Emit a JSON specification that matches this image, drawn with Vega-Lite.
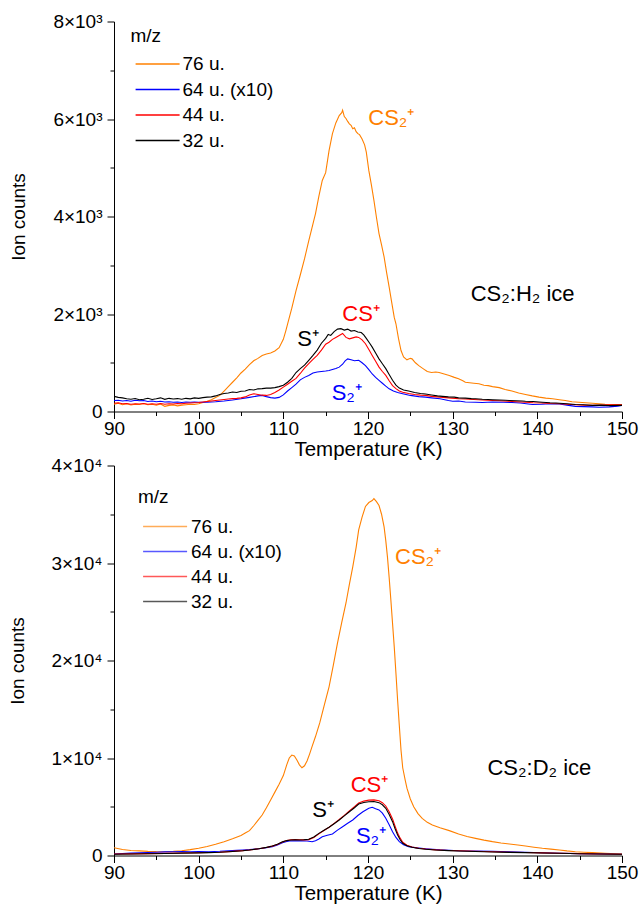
{
"$schema": "https://vega.github.io/schema/vega-lite/v6.json",
"background": "white",
"padding": {"left": 8, "top": 12.5, "right": 5, "bottom": 5},
"config": {
  "font": "Liberation Sans",
  "view": {"stroke": null},
  "axis": {"domainColor": "black", "tickColor": "black", "labelColor": "black", "titleColor": "black", "grid": false, "labelFontSize": 19, "titleFontSize": 19, "titleFontWeight": "normal", "labelFlush": false, "labelOverlap": false, "tickSize": 7, "domainWidth": 1, "tickWidth": 1, "labelFont": "Liberation Sans", "titleFont": "Liberation Sans"},
  "legend": {"labelFont": "Liberation Sans", "titleFont": "Liberation Sans"}
},
"datasets": {
  "top": [
{"T":90,"c":150,"mz":"76 u."},{"T":90.5,"c":170,"mz":"76 u."},{"T":91,"c":140,"mz":"76 u."},{"T":91.5,"c":160,"mz":"76 u."},{"T":92,"c":135,"mz":"76 u."},{"T":92.5,"c":150,"mz":"76 u."},{"T":93,"c":145,"mz":"76 u."},{"T":93.5,"c":165,"mz":"76 u."},{"T":94,"c":140,"mz":"76 u."},{"T":94.5,"c":150,"mz":"76 u."},{"T":95,"c":130,"mz":"76 u."},{"T":95.5,"c":155,"mz":"76 u."},{"T":96,"c":105,"mz":"76 u."},{"T":96.5,"c":125,"mz":"76 u."},{"T":97,"c":135,"mz":"76 u."},{"T":97.5,"c":115,"mz":"76 u."},{"T":98,"c":130,"mz":"76 u."},{"T":98.5,"c":140,"mz":"76 u."},{"T":99,"c":150,"mz":"76 u."},{"T":99.5,"c":145,"mz":"76 u."},{"T":100,"c":160,"mz":"76 u."},{"T":100.5,"c":185,"mz":"76 u."},{"T":101,"c":210,"mz":"76 u."},{"T":101.5,"c":240,"mz":"76 u."},{"T":102,"c":285,"mz":"76 u."},{"T":102.5,"c":330,"mz":"76 u."},{"T":103,"c":420,"mz":"76 u."},{"T":103.5,"c":510,"mz":"76 u."},{"T":104,"c":600,"mz":"76 u."},{"T":104.5,"c":690,"mz":"76 u."},{"T":105,"c":790,"mz":"76 u."},{"T":105.5,"c":870,"mz":"76 u."},{"T":106,"c":960,"mz":"76 u."},{"T":106.5,"c":1040,"mz":"76 u."},{"T":107,"c":1090,"mz":"76 u."},{"T":107.5,"c":1150,"mz":"76 u."},{"T":108,"c":1180,"mz":"76 u."},{"T":108.5,"c":1200,"mz":"76 u."},{"T":109,"c":1240,"mz":"76 u."},{"T":109.5,"c":1310,"mz":"76 u."},{"T":110,"c":1480,"mz":"76 u."},{"T":110.3,"c":1660,"mz":"76 u."},{"T":110.6,"c":1860,"mz":"76 u."},{"T":111,"c":2120,"mz":"76 u."},{"T":111.5,"c":2480,"mz":"76 u."},{"T":112,"c":2800,"mz":"76 u."},{"T":112.5,"c":3130,"mz":"76 u."},{"T":113,"c":3500,"mz":"76 u."},{"T":113.5,"c":3850,"mz":"76 u."},{"T":113.8,"c":4060,"mz":"76 u."},{"T":114.2,"c":4420,"mz":"76 u."},{"T":114.6,"c":4740,"mz":"76 u."},{"T":115,"c":4900,"mz":"76 u."},{"T":115.4,"c":5350,"mz":"76 u."},{"T":115.8,"c":5700,"mz":"76 u."},{"T":116.2,"c":5920,"mz":"76 u."},{"T":116.6,"c":6070,"mz":"76 u."},{"T":116.9,"c":6130,"mz":"76 u."},{"T":117,"c":6180,"mz":"76 u."},{"T":117.2,"c":6050,"mz":"76 u."},{"T":117.4,"c":6010,"mz":"76 u."},{"T":117.6,"c":5950,"mz":"76 u."},{"T":117.8,"c":5900,"mz":"76 u."},{"T":118,"c":5870,"mz":"76 u."},{"T":118.2,"c":5800,"mz":"76 u."},{"T":118.4,"c":5820,"mz":"76 u."},{"T":118.6,"c":5740,"mz":"76 u."},{"T":118.8,"c":5700,"mz":"76 u."},{"T":119,"c":5680,"mz":"76 u."},{"T":119.3,"c":5590,"mz":"76 u."},{"T":119.6,"c":5470,"mz":"76 u."},{"T":119.8,"c":5320,"mz":"76 u."},{"T":120.1,"c":4940,"mz":"76 u."},{"T":120.4,"c":4650,"mz":"76 u."},{"T":120.7,"c":4330,"mz":"76 u."},{"T":121,"c":3980,"mz":"76 u."},{"T":121.3,"c":3650,"mz":"76 u."},{"T":121.6,"c":3420,"mz":"76 u."},{"T":121.9,"c":3170,"mz":"76 u."},{"T":122.2,"c":2850,"mz":"76 u."},{"T":122.5,"c":2550,"mz":"76 u."},{"T":122.8,"c":2240,"mz":"76 u."},{"T":123.1,"c":1930,"mz":"76 u."},{"T":123.3,"c":1800,"mz":"76 u."},{"T":123.6,"c":1500,"mz":"76 u."},{"T":123.9,"c":1250,"mz":"76 u."},{"T":124.2,"c":1120,"mz":"76 u."},{"T":124.6,"c":1060,"mz":"76 u."},{"T":125,"c":1090,"mz":"76 u."},{"T":125.2,"c":1080,"mz":"76 u."},{"T":125.6,"c":1000,"mz":"76 u."},{"T":126,"c":940,"mz":"76 u."},{"T":126.5,"c":880,"mz":"76 u."},{"T":127,"c":820,"mz":"76 u."},{"T":127.5,"c":800,"mz":"76 u."},{"T":128,"c":810,"mz":"76 u."},{"T":128.4,"c":800,"mz":"76 u."},{"T":129,"c":770,"mz":"76 u."},{"T":129.6,"c":740,"mz":"76 u."},{"T":130.2,"c":700,"mz":"76 u."},{"T":130.7,"c":670,"mz":"76 u."},{"T":131.2,"c":630,"mz":"76 u."},{"T":131.5,"c":600,"mz":"76 u."},{"T":132,"c":590,"mz":"76 u."},{"T":132.5,"c":580,"mz":"76 u."},{"T":133.1,"c":570,"mz":"76 u."},{"T":133.7,"c":540,"mz":"76 u."},{"T":134.2,"c":530,"mz":"76 u."},{"T":134.7,"c":510,"mz":"76 u."},{"T":135.5,"c":490,"mz":"76 u."},{"T":136.2,"c":450,"mz":"76 u."},{"T":137,"c":420,"mz":"76 u."},{"T":137.8,"c":380,"mz":"76 u."},{"T":138.6,"c":350,"mz":"76 u."},{"T":139.4,"c":320,"mz":"76 u."},{"T":140.2,"c":295,"mz":"76 u."},{"T":141,"c":275,"mz":"76 u."},{"T":141.8,"c":260,"mz":"76 u."},{"T":142.6,"c":240,"mz":"76 u."},{"T":143.3,"c":225,"mz":"76 u."},{"T":144.1,"c":200,"mz":"76 u."},{"T":144.9,"c":190,"mz":"76 u."},{"T":145.7,"c":180,"mz":"76 u."},{"T":146.5,"c":170,"mz":"76 u."},{"T":147.3,"c":160,"mz":"76 u."},{"T":148,"c":150,"mz":"76 u."},{"T":149,"c":145,"mz":"76 u."},{"T":150,"c":140,"mz":"76 u."},
{"T":90,"c":225,"mz":"64 u. (x10)"},{"T":90.5,"c":230,"mz":"64 u. (x10)"},{"T":91,"c":215,"mz":"64 u. (x10)"},{"T":91.5,"c":225,"mz":"64 u. (x10)"},{"T":92,"c":210,"mz":"64 u. (x10)"},{"T":92.5,"c":230,"mz":"64 u. (x10)"},{"T":93,"c":220,"mz":"64 u. (x10)"},{"T":93.5,"c":225,"mz":"64 u. (x10)"},{"T":94,"c":205,"mz":"64 u. (x10)"},{"T":94.5,"c":215,"mz":"64 u. (x10)"},{"T":95,"c":200,"mz":"64 u. (x10)"},{"T":95.5,"c":210,"mz":"64 u. (x10)"},{"T":96,"c":195,"mz":"64 u. (x10)"},{"T":96.5,"c":200,"mz":"64 u. (x10)"},{"T":97,"c":190,"mz":"64 u. (x10)"},{"T":97.5,"c":195,"mz":"64 u. (x10)"},{"T":98,"c":185,"mz":"64 u. (x10)"},{"T":98.5,"c":195,"mz":"64 u. (x10)"},{"T":99,"c":190,"mz":"64 u. (x10)"},{"T":99.5,"c":195,"mz":"64 u. (x10)"},{"T":100,"c":190,"mz":"64 u. (x10)"},{"T":101,"c":190,"mz":"64 u. (x10)"},{"T":102,"c":200,"mz":"64 u. (x10)"},{"T":103,"c":215,"mz":"64 u. (x10)"},{"T":104,"c":235,"mz":"64 u. (x10)"},{"T":105,"c":260,"mz":"64 u. (x10)"},{"T":106,"c":290,"mz":"64 u. (x10)"},{"T":107,"c":320,"mz":"64 u. (x10)"},{"T":107.5,"c":330,"mz":"64 u. (x10)"},{"T":108,"c":305,"mz":"64 u. (x10)"},{"T":108.5,"c":285,"mz":"64 u. (x10)"},{"T":109,"c":275,"mz":"64 u. (x10)"},{"T":109.5,"c":290,"mz":"64 u. (x10)"},{"T":110,"c":340,"mz":"64 u. (x10)"},{"T":110.5,"c":420,"mz":"64 u. (x10)"},{"T":111,"c":490,"mz":"64 u. (x10)"},{"T":111.5,"c":560,"mz":"64 u. (x10)"},{"T":112,"c":650,"mz":"64 u. (x10)"},{"T":112.5,"c":700,"mz":"64 u. (x10)"},{"T":113,"c":740,"mz":"64 u. (x10)"},{"T":113.5,"c":790,"mz":"64 u. (x10)"},{"T":114,"c":810,"mz":"64 u. (x10)"},{"T":114.5,"c":820,"mz":"64 u. (x10)"},{"T":115,"c":830,"mz":"64 u. (x10)"},{"T":115.4,"c":840,"mz":"64 u. (x10)"},{"T":115.8,"c":860,"mz":"64 u. (x10)"},{"T":116.2,"c":880,"mz":"64 u. (x10)"},{"T":116.6,"c":910,"mz":"64 u. (x10)"},{"T":117,"c":970,"mz":"64 u. (x10)"},{"T":117.3,"c":1040,"mz":"64 u. (x10)"},{"T":117.6,"c":1080,"mz":"64 u. (x10)"},{"T":118,"c":1060,"mz":"64 u. (x10)"},{"T":118.4,"c":1040,"mz":"64 u. (x10)"},{"T":118.9,"c":1050,"mz":"64 u. (x10)"},{"T":119.3,"c":1000,"mz":"64 u. (x10)"},{"T":119.7,"c":940,"mz":"64 u. (x10)"},{"T":120.1,"c":860,"mz":"64 u. (x10)"},{"T":120.5,"c":770,"mz":"64 u. (x10)"},{"T":120.9,"c":700,"mz":"64 u. (x10)"},{"T":121.3,"c":640,"mz":"64 u. (x10)"},{"T":121.7,"c":580,"mz":"64 u. (x10)"},{"T":122.1,"c":520,"mz":"64 u. (x10)"},{"T":122.5,"c":465,"mz":"64 u. (x10)"},{"T":123,"c":420,"mz":"64 u. (x10)"},{"T":123.5,"c":390,"mz":"64 u. (x10)"},{"T":124.1,"c":365,"mz":"64 u. (x10)"},{"T":125,"c":330,"mz":"64 u. (x10)"},{"T":126,"c":305,"mz":"64 u. (x10)"},{"T":126.8,"c":295,"mz":"64 u. (x10)"},{"T":127.5,"c":280,"mz":"64 u. (x10)"},{"T":128.5,"c":260,"mz":"64 u. (x10)"},{"T":129.5,"c":225,"mz":"64 u. (x10)"},{"T":130,"c":210,"mz":"64 u. (x10)"},{"T":130.7,"c":215,"mz":"64 u. (x10)"},{"T":131.5,"c":195,"mz":"64 u. (x10)"},{"T":132.7,"c":190,"mz":"64 u. (x10)"},{"T":133.5,"c":185,"mz":"64 u. (x10)"},{"T":134.7,"c":195,"mz":"64 u. (x10)"},{"T":136,"c":190,"mz":"64 u. (x10)"},{"T":137,"c":185,"mz":"64 u. (x10)"},{"T":138,"c":175,"mz":"64 u. (x10)"},{"T":139.4,"c":145,"mz":"64 u. (x10)"},{"T":140.5,"c":150,"mz":"64 u. (x10)"},{"T":141.5,"c":160,"mz":"64 u. (x10)"},{"T":142.6,"c":155,"mz":"64 u. (x10)"},{"T":143.5,"c":130,"mz":"64 u. (x10)"},{"T":144.5,"c":105,"mz":"64 u. (x10)"},{"T":145.5,"c":100,"mz":"64 u. (x10)"},{"T":146.5,"c":95,"mz":"64 u. (x10)"},{"T":147.3,"c":88,"mz":"64 u. (x10)"},{"T":148.5,"c":95,"mz":"64 u. (x10)"},{"T":149.5,"c":110,"mz":"64 u. (x10)"},{"T":150,"c":125,"mz":"64 u. (x10)"},
{"T":90,"c":170,"mz":"44 u."},{"T":90.5,"c":180,"mz":"44 u."},{"T":91,"c":160,"mz":"44 u."},{"T":91.5,"c":165,"mz":"44 u."},{"T":92,"c":150,"mz":"44 u."},{"T":92.5,"c":160,"mz":"44 u."},{"T":93,"c":155,"mz":"44 u."},{"T":93.5,"c":165,"mz":"44 u."},{"T":94,"c":150,"mz":"44 u."},{"T":94.5,"c":160,"mz":"44 u."},{"T":95,"c":150,"mz":"44 u."},{"T":95.5,"c":165,"mz":"44 u."},{"T":96,"c":150,"mz":"44 u."},{"T":96.5,"c":160,"mz":"44 u."},{"T":97,"c":155,"mz":"44 u."},{"T":97.5,"c":165,"mz":"44 u."},{"T":98,"c":160,"mz":"44 u."},{"T":98.5,"c":170,"mz":"44 u."},{"T":99,"c":175,"mz":"44 u."},{"T":99.5,"c":180,"mz":"44 u."},{"T":100,"c":185,"mz":"44 u."},{"T":100.5,"c":195,"mz":"44 u."},{"T":101,"c":205,"mz":"44 u."},{"T":101.5,"c":215,"mz":"44 u."},{"T":102,"c":225,"mz":"44 u."},{"T":102.5,"c":235,"mz":"44 u."},{"T":103,"c":245,"mz":"44 u."},{"T":103.5,"c":255,"mz":"44 u."},{"T":104,"c":265,"mz":"44 u."},{"T":104.5,"c":270,"mz":"44 u."},{"T":105,"c":280,"mz":"44 u."},{"T":105.5,"c":300,"mz":"44 u."},{"T":106,"c":340,"mz":"44 u."},{"T":106.5,"c":365,"mz":"44 u."},{"T":107,"c":350,"mz":"44 u."},{"T":107.5,"c":335,"mz":"44 u."},{"T":108,"c":330,"mz":"44 u."},{"T":108.5,"c":350,"mz":"44 u."},{"T":109,"c":390,"mz":"44 u."},{"T":109.5,"c":440,"mz":"44 u."},{"T":110,"c":500,"mz":"44 u."},{"T":110.5,"c":560,"mz":"44 u."},{"T":111,"c":620,"mz":"44 u."},{"T":111.5,"c":680,"mz":"44 u."},{"T":112,"c":780,"mz":"44 u."},{"T":112.5,"c":890,"mz":"44 u."},{"T":113,"c":980,"mz":"44 u."},{"T":113.5,"c":1070,"mz":"44 u."},{"T":114,"c":1150,"mz":"44 u."},{"T":114.5,"c":1260,"mz":"44 u."},{"T":115,"c":1380,"mz":"44 u."},{"T":115.4,"c":1420,"mz":"44 u."},{"T":115.8,"c":1480,"mz":"44 u."},{"T":116.2,"c":1520,"mz":"44 u."},{"T":116.6,"c":1560,"mz":"44 u."},{"T":117,"c":1600,"mz":"44 u."},{"T":117.4,"c":1520,"mz":"44 u."},{"T":117.8,"c":1490,"mz":"44 u."},{"T":118.2,"c":1510,"mz":"44 u."},{"T":118.6,"c":1530,"mz":"44 u."},{"T":118.9,"c":1520,"mz":"44 u."},{"T":119.3,"c":1470,"mz":"44 u."},{"T":119.7,"c":1390,"mz":"44 u."},{"T":120.1,"c":1270,"mz":"44 u."},{"T":120.5,"c":1150,"mz":"44 u."},{"T":120.9,"c":1030,"mz":"44 u."},{"T":121.3,"c":910,"mz":"44 u."},{"T":121.7,"c":820,"mz":"44 u."},{"T":122.1,"c":740,"mz":"44 u."},{"T":122.5,"c":630,"mz":"44 u."},{"T":122.9,"c":530,"mz":"44 u."},{"T":123.3,"c":470,"mz":"44 u."},{"T":123.7,"c":420,"mz":"44 u."},{"T":124.1,"c":395,"mz":"44 u."},{"T":124.8,"c":370,"mz":"44 u."},{"T":125.5,"c":350,"mz":"44 u."},{"T":126.2,"c":335,"mz":"44 u."},{"T":126.8,"c":330,"mz":"44 u."},{"T":127.5,"c":310,"mz":"44 u."},{"T":128.5,"c":295,"mz":"44 u."},{"T":129.5,"c":280,"mz":"44 u."},{"T":130.7,"c":260,"mz":"44 u."},{"T":131.5,"c":255,"mz":"44 u."},{"T":132.5,"c":245,"mz":"44 u."},{"T":133.5,"c":235,"mz":"44 u."},{"T":134.7,"c":225,"mz":"44 u."},{"T":135.5,"c":220,"mz":"44 u."},{"T":136.5,"c":210,"mz":"44 u."},{"T":137.5,"c":200,"mz":"44 u."},{"T":138.6,"c":190,"mz":"44 u."},{"T":139.5,"c":180,"mz":"44 u."},{"T":140.5,"c":175,"mz":"44 u."},{"T":141.5,"c":165,"mz":"44 u."},{"T":142.6,"c":160,"mz":"44 u."},{"T":143.5,"c":150,"mz":"44 u."},{"T":144.5,"c":140,"mz":"44 u."},{"T":145.5,"c":130,"mz":"44 u."},{"T":146.5,"c":125,"mz":"44 u."},{"T":147.5,"c":130,"mz":"44 u."},{"T":148.5,"c":135,"mz":"44 u."},{"T":149.5,"c":135,"mz":"44 u."},{"T":150,"c":137,"mz":"44 u."},
{"T":90,"c":310,"mz":"32 u."},{"T":90.5,"c":290,"mz":"32 u."},{"T":91,"c":280,"mz":"32 u."},{"T":91.5,"c":260,"mz":"32 u."},{"T":92,"c":250,"mz":"32 u."},{"T":92.5,"c":265,"mz":"32 u."},{"T":93,"c":240,"mz":"32 u."},{"T":93.5,"c":250,"mz":"32 u."},{"T":94,"c":270,"mz":"32 u."},{"T":94.5,"c":245,"mz":"32 u."},{"T":95,"c":260,"mz":"32 u."},{"T":95.5,"c":280,"mz":"32 u."},{"T":96,"c":250,"mz":"32 u."},{"T":96.5,"c":270,"mz":"32 u."},{"T":97,"c":255,"mz":"32 u."},{"T":97.5,"c":265,"mz":"32 u."},{"T":98,"c":250,"mz":"32 u."},{"T":98.5,"c":270,"mz":"32 u."},{"T":99,"c":260,"mz":"32 u."},{"T":99.5,"c":280,"mz":"32 u."},{"T":100,"c":270,"mz":"32 u."},{"T":100.5,"c":285,"mz":"32 u."},{"T":101,"c":295,"mz":"32 u."},{"T":101.5,"c":300,"mz":"32 u."},{"T":102,"c":320,"mz":"32 u."},{"T":102.5,"c":350,"mz":"32 u."},{"T":103,"c":370,"mz":"32 u."},{"T":103.5,"c":380,"mz":"32 u."},{"T":104,"c":400,"mz":"32 u."},{"T":104.5,"c":390,"mz":"32 u."},{"T":105,"c":415,"mz":"32 u."},{"T":105.5,"c":420,"mz":"32 u."},{"T":106,"c":450,"mz":"32 u."},{"T":106.5,"c":440,"mz":"32 u."},{"T":107,"c":465,"mz":"32 u."},{"T":107.5,"c":470,"mz":"32 u."},{"T":108,"c":480,"mz":"32 u."},{"T":108.5,"c":480,"mz":"32 u."},{"T":109,"c":490,"mz":"32 u."},{"T":109.5,"c":510,"mz":"32 u."},{"T":110,"c":540,"mz":"32 u."},{"T":110.5,"c":600,"mz":"32 u."},{"T":111,"c":680,"mz":"32 u."},{"T":111.5,"c":800,"mz":"32 u."},{"T":112,"c":880,"mz":"32 u."},{"T":112.5,"c":950,"mz":"32 u."},{"T":113,"c":1050,"mz":"32 u."},{"T":113.5,"c":1150,"mz":"32 u."},{"T":114,"c":1260,"mz":"32 u."},{"T":114.5,"c":1400,"mz":"32 u."},{"T":115,"c":1500,"mz":"32 u."},{"T":115.3,"c":1580,"mz":"32 u."},{"T":115.6,"c":1560,"mz":"32 u."},{"T":116,"c":1640,"mz":"32 u."},{"T":116.4,"c":1690,"mz":"32 u."},{"T":116.8,"c":1700,"mz":"32 u."},{"T":117.2,"c":1670,"mz":"32 u."},{"T":117.6,"c":1690,"mz":"32 u."},{"T":118,"c":1650,"mz":"32 u."},{"T":118.4,"c":1660,"mz":"32 u."},{"T":118.8,"c":1630,"mz":"32 u."},{"T":119.2,"c":1620,"mz":"32 u."},{"T":119.5,"c":1570,"mz":"32 u."},{"T":119.8,"c":1500,"mz":"32 u."},{"T":120.2,"c":1400,"mz":"32 u."},{"T":120.5,"c":1320,"mz":"32 u."},{"T":120.9,"c":1200,"mz":"32 u."},{"T":121.3,"c":1080,"mz":"32 u."},{"T":121.7,"c":980,"mz":"32 u."},{"T":122.1,"c":880,"mz":"32 u."},{"T":122.5,"c":760,"mz":"32 u."},{"T":122.9,"c":640,"mz":"32 u."},{"T":123.3,"c":540,"mz":"32 u."},{"T":123.7,"c":480,"mz":"32 u."},{"T":124.2,"c":440,"mz":"32 u."},{"T":124.8,"c":420,"mz":"32 u."},{"T":125.5,"c":390,"mz":"32 u."},{"T":126.2,"c":370,"mz":"32 u."},{"T":126.8,"c":360,"mz":"32 u."},{"T":127.5,"c":340,"mz":"32 u."},{"T":128.2,"c":320,"mz":"32 u."},{"T":128.8,"c":310,"mz":"32 u."},{"T":129.5,"c":300,"mz":"32 u."},{"T":130.2,"c":295,"mz":"32 u."},{"T":130.7,"c":280,"mz":"32 u."},{"T":131.5,"c":275,"mz":"32 u."},{"T":132.2,"c":265,"mz":"32 u."},{"T":132.7,"c":260,"mz":"32 u."},{"T":133.5,"c":250,"mz":"32 u."},{"T":134.2,"c":245,"mz":"32 u."},{"T":134.7,"c":240,"mz":"32 u."},{"T":135.5,"c":235,"mz":"32 u."},{"T":136.2,"c":230,"mz":"32 u."},{"T":136.7,"c":225,"mz":"32 u."},{"T":137.5,"c":220,"mz":"32 u."},{"T":138.2,"c":215,"mz":"32 u."},{"T":138.6,"c":210,"mz":"32 u."},{"T":139.5,"c":205,"mz":"32 u."},{"T":140.2,"c":195,"mz":"32 u."},{"T":140.6,"c":190,"mz":"32 u."},{"T":141.5,"c":180,"mz":"32 u."},{"T":142.2,"c":175,"mz":"32 u."},{"T":142.6,"c":170,"mz":"32 u."},{"T":143.5,"c":160,"mz":"32 u."},{"T":144.5,"c":145,"mz":"32 u."},{"T":145.5,"c":140,"mz":"32 u."},{"T":146.5,"c":125,"mz":"32 u."},{"T":147.5,"c":130,"mz":"32 u."},{"T":148.5,"c":120,"mz":"32 u."},{"T":149.5,"c":125,"mz":"32 u."},{"T":150,"c":125,"mz":"32 u."}
  ],
  "bottom": [
{"T":90,"c":800,"mz":"76 u."},{"T":91,"c":620,"mz":"76 u."},{"T":92,"c":520,"mz":"76 u."},{"T":93,"c":470,"mz":"76 u."},{"T":94,"c":420,"mz":"76 u."},{"T":95,"c":395,"mz":"76 u."},{"T":96,"c":390,"mz":"76 u."},{"T":97,"c":420,"mz":"76 u."},{"T":98,"c":480,"mz":"76 u."},{"T":99,"c":600,"mz":"76 u."},{"T":100,"c":740,"mz":"76 u."},{"T":101,"c":920,"mz":"76 u."},{"T":102,"c":1150,"mz":"76 u."},{"T":103,"c":1420,"mz":"76 u."},{"T":104,"c":1720,"mz":"76 u."},{"T":105,"c":2050,"mz":"76 u."},{"T":105.5,"c":2300,"mz":"76 u."},{"T":106,"c":2550,"mz":"76 u."},{"T":106.5,"c":3050,"mz":"76 u."},{"T":107,"c":3600,"mz":"76 u."},{"T":107.5,"c":4150,"mz":"76 u."},{"T":108,"c":4900,"mz":"76 u."},{"T":108.5,"c":5700,"mz":"76 u."},{"T":109,"c":6500,"mz":"76 u."},{"T":109.5,"c":7300,"mz":"76 u."},{"T":110,"c":8200,"mz":"76 u."},{"T":110.4,"c":9300,"mz":"76 u."},{"T":110.7,"c":10000,"mz":"76 u."},{"T":111,"c":10300,"mz":"76 u."},{"T":111.3,"c":10200,"mz":"76 u."},{"T":111.6,"c":9800,"mz":"76 u."},{"T":111.9,"c":9300,"mz":"76 u."},{"T":112.2,"c":9000,"mz":"76 u."},{"T":112.5,"c":9200,"mz":"76 u."},{"T":112.8,"c":9700,"mz":"76 u."},{"T":113.1,"c":10400,"mz":"76 u."},{"T":113.4,"c":11200,"mz":"76 u."},{"T":113.8,"c":12200,"mz":"76 u."},{"T":114.3,"c":13600,"mz":"76 u."},{"T":114.8,"c":15300,"mz":"76 u."},{"T":115.4,"c":17300,"mz":"76 u."},{"T":115.9,"c":19500,"mz":"76 u."},{"T":116.4,"c":21800,"mz":"76 u."},{"T":116.9,"c":23900,"mz":"76 u."},{"T":117.4,"c":25900,"mz":"76 u."},{"T":117.8,"c":27800,"mz":"76 u."},{"T":118.2,"c":29600,"mz":"76 u."},{"T":118.6,"c":31600,"mz":"76 u."},{"T":118.9,"c":33400,"mz":"76 u."},{"T":119.3,"c":34700,"mz":"76 u."},{"T":119.7,"c":35800,"mz":"76 u."},{"T":120.1,"c":36200,"mz":"76 u."},{"T":120.5,"c":36400,"mz":"76 u."},{"T":120.7,"c":36600,"mz":"76 u."},{"T":121,"c":36300,"mz":"76 u."},{"T":121.3,"c":35900,"mz":"76 u."},{"T":121.6,"c":35000,"mz":"76 u."},{"T":121.9,"c":33700,"mz":"76 u."},{"T":122.1,"c":32300,"mz":"76 u."},{"T":122.3,"c":30600,"mz":"76 u."},{"T":122.5,"c":28500,"mz":"76 u."},{"T":122.7,"c":26200,"mz":"76 u."},{"T":122.9,"c":23800,"mz":"76 u."},{"T":123.1,"c":21400,"mz":"76 u."},{"T":123.3,"c":18700,"mz":"76 u."},{"T":123.5,"c":15900,"mz":"76 u."},{"T":123.7,"c":13300,"mz":"76 u."},{"T":123.9,"c":10800,"mz":"76 u."},{"T":124.1,"c":9000,"mz":"76 u."},{"T":124.4,"c":7700,"mz":"76 u."},{"T":124.6,"c":6900,"mz":"76 u."},{"T":125,"c":5800,"mz":"76 u."},{"T":125.4,"c":5000,"mz":"76 u."},{"T":125.9,"c":4300,"mz":"76 u."},{"T":126.4,"c":3800,"mz":"76 u."},{"T":127,"c":3400,"mz":"76 u."},{"T":127.6,"c":3130,"mz":"76 u."},{"T":128.5,"c":2850,"mz":"76 u."},{"T":129.6,"c":2550,"mz":"76 u."},{"T":130.7,"c":2200,"mz":"76 u."},{"T":131.7,"c":1950,"mz":"76 u."},{"T":132.7,"c":1760,"mz":"76 u."},{"T":133.7,"c":1580,"mz":"76 u."},{"T":134.7,"c":1420,"mz":"76 u."},{"T":135.7,"c":1290,"mz":"76 u."},{"T":136.7,"c":1180,"mz":"76 u."},{"T":137.7,"c":1070,"mz":"76 u."},{"T":138.6,"c":970,"mz":"76 u."},{"T":139.6,"c":850,"mz":"76 u."},{"T":140.6,"c":740,"mz":"76 u."},{"T":141.6,"c":650,"mz":"76 u."},{"T":142.6,"c":560,"mz":"76 u."},{"T":143.5,"c":470,"mz":"76 u."},{"T":144.5,"c":390,"mz":"76 u."},{"T":145.5,"c":340,"mz":"76 u."},{"T":146.5,"c":290,"mz":"76 u."},{"T":148,"c":230,"mz":"76 u."},{"T":150,"c":160,"mz":"76 u."},
{"T":90,"c":150,"mz":"64 u. (x10)"},{"T":91,"c":200,"mz":"64 u. (x10)"},{"T":92,"c":240,"mz":"64 u. (x10)"},{"T":93,"c":280,"mz":"64 u. (x10)"},{"T":94,"c":300,"mz":"64 u. (x10)"},{"T":95,"c":330,"mz":"64 u. (x10)"},{"T":96,"c":370,"mz":"64 u. (x10)"},{"T":97,"c":380,"mz":"64 u. (x10)"},{"T":98,"c":400,"mz":"64 u. (x10)"},{"T":99,"c":390,"mz":"64 u. (x10)"},{"T":100,"c":400,"mz":"64 u. (x10)"},{"T":101.2,"c":390,"mz":"64 u. (x10)"},{"T":102.5,"c":430,"mz":"64 u. (x10)"},{"T":103.5,"c":480,"mz":"64 u. (x10)"},{"T":104.5,"c":530,"mz":"64 u. (x10)"},{"T":105.2,"c":560,"mz":"64 u. (x10)"},{"T":106,"c":600,"mz":"64 u. (x10)"},{"T":107.1,"c":700,"mz":"64 u. (x10)"},{"T":108,"c":800,"mz":"64 u. (x10)"},{"T":108.7,"c":900,"mz":"64 u. (x10)"},{"T":109.3,"c":1080,"mz":"64 u. (x10)"},{"T":109.9,"c":1310,"mz":"64 u. (x10)"},{"T":110.4,"c":1440,"mz":"64 u. (x10)"},{"T":110.9,"c":1520,"mz":"64 u. (x10)"},{"T":111.4,"c":1500,"mz":"64 u. (x10)"},{"T":112.2,"c":1520,"mz":"64 u. (x10)"},{"T":112.8,"c":1480,"mz":"64 u. (x10)"},{"T":113.4,"c":1410,"mz":"64 u. (x10)"},{"T":113.8,"c":1520,"mz":"64 u. (x10)"},{"T":114.2,"c":1700,"mz":"64 u. (x10)"},{"T":114.6,"c":1930,"mz":"64 u. (x10)"},{"T":115.2,"c":2070,"mz":"64 u. (x10)"},{"T":115.8,"c":2200,"mz":"64 u. (x10)"},{"T":116.4,"c":2600,"mz":"64 u. (x10)"},{"T":117,"c":2950,"mz":"64 u. (x10)"},{"T":117.6,"c":3300,"mz":"64 u. (x10)"},{"T":118.2,"c":3640,"mz":"64 u. (x10)"},{"T":118.8,"c":4100,"mz":"64 u. (x10)"},{"T":119.4,"c":4490,"mz":"64 u. (x10)"},{"T":119.8,"c":4700,"mz":"64 u. (x10)"},{"T":120.1,"c":4840,"mz":"64 u. (x10)"},{"T":120.5,"c":4950,"mz":"64 u. (x10)"},{"T":120.9,"c":4800,"mz":"64 u. (x10)"},{"T":121.3,"c":4670,"mz":"64 u. (x10)"},{"T":121.7,"c":4350,"mz":"64 u. (x10)"},{"T":122.1,"c":3820,"mz":"64 u. (x10)"},{"T":122.5,"c":3150,"mz":"64 u. (x10)"},{"T":122.9,"c":2440,"mz":"64 u. (x10)"},{"T":123.3,"c":1850,"mz":"64 u. (x10)"},{"T":123.7,"c":1420,"mz":"64 u. (x10)"},{"T":124.2,"c":1100,"mz":"64 u. (x10)"},{"T":124.8,"c":900,"mz":"64 u. (x10)"},{"T":125.8,"c":780,"mz":"64 u. (x10)"},{"T":126.8,"c":700,"mz":"64 u. (x10)"},{"T":128.5,"c":590,"mz":"64 u. (x10)"},{"T":130.7,"c":490,"mz":"64 u. (x10)"},{"T":132.7,"c":460,"mz":"64 u. (x10)"},{"T":134.7,"c":430,"mz":"64 u. (x10)"},{"T":136.7,"c":380,"mz":"64 u. (x10)"},{"T":138.6,"c":330,"mz":"64 u. (x10)"},{"T":140.6,"c":280,"mz":"64 u. (x10)"},{"T":142.6,"c":230,"mz":"64 u. (x10)"},{"T":145,"c":190,"mz":"64 u. (x10)"},{"T":147.5,"c":150,"mz":"64 u. (x10)"},{"T":150,"c":125,"mz":"64 u. (x10)"},
{"T":90,"c":160,"mz":"44 u."},{"T":92,"c":170,"mz":"44 u."},{"T":94,"c":190,"mz":"44 u."},{"T":96,"c":220,"mz":"44 u."},{"T":98,"c":250,"mz":"44 u."},{"T":100,"c":280,"mz":"44 u."},{"T":101.2,"c":300,"mz":"44 u."},{"T":102.5,"c":340,"mz":"44 u."},{"T":104,"c":420,"mz":"44 u."},{"T":105.2,"c":500,"mz":"44 u."},{"T":106,"c":570,"mz":"44 u."},{"T":107.1,"c":690,"mz":"44 u."},{"T":108,"c":820,"mz":"44 u."},{"T":108.7,"c":960,"mz":"44 u."},{"T":109.3,"c":1130,"mz":"44 u."},{"T":109.9,"c":1380,"mz":"44 u."},{"T":110.4,"c":1540,"mz":"44 u."},{"T":110.9,"c":1620,"mz":"44 u."},{"T":111.4,"c":1640,"mz":"44 u."},{"T":111.9,"c":1620,"mz":"44 u."},{"T":112.4,"c":1600,"mz":"44 u."},{"T":113,"c":1630,"mz":"44 u."},{"T":113.6,"c":1850,"mz":"44 u."},{"T":114.2,"c":2220,"mz":"44 u."},{"T":114.8,"c":2560,"mz":"44 u."},{"T":115.4,"c":2900,"mz":"44 u."},{"T":116,"c":3290,"mz":"44 u."},{"T":116.6,"c":3690,"mz":"44 u."},{"T":117.2,"c":4120,"mz":"44 u."},{"T":117.8,"c":4570,"mz":"44 u."},{"T":118.4,"c":5000,"mz":"44 u."},{"T":118.9,"c":5380,"mz":"44 u."},{"T":119.5,"c":5580,"mz":"44 u."},{"T":120.1,"c":5680,"mz":"44 u."},{"T":120.7,"c":5700,"mz":"44 u."},{"T":121.3,"c":5620,"mz":"44 u."},{"T":121.7,"c":5420,"mz":"44 u."},{"T":122.1,"c":5080,"mz":"44 u."},{"T":122.5,"c":4480,"mz":"44 u."},{"T":122.9,"c":3750,"mz":"44 u."},{"T":123.2,"c":3000,"mz":"44 u."},{"T":123.5,"c":2300,"mz":"44 u."},{"T":123.8,"c":1780,"mz":"44 u."},{"T":124.1,"c":1360,"mz":"44 u."},{"T":124.6,"c":1060,"mz":"44 u."},{"T":125.2,"c":880,"mz":"44 u."},{"T":126,"c":740,"mz":"44 u."},{"T":126.8,"c":660,"mz":"44 u."},{"T":128,"c":580,"mz":"44 u."},{"T":129.5,"c":520,"mz":"44 u."},{"T":130.7,"c":480,"mz":"44 u."},{"T":132.7,"c":430,"mz":"44 u."},{"T":134.7,"c":380,"mz":"44 u."},{"T":136.7,"c":340,"mz":"44 u."},{"T":138.6,"c":300,"mz":"44 u."},{"T":140.6,"c":265,"mz":"44 u."},{"T":142.6,"c":235,"mz":"44 u."},{"T":145,"c":195,"mz":"44 u."},{"T":147.5,"c":160,"mz":"44 u."},{"T":150,"c":135,"mz":"44 u."},
{"T":90,"c":125,"mz":"32 u."},{"T":92,"c":150,"mz":"32 u."},{"T":94,"c":180,"mz":"32 u."},{"T":96,"c":210,"mz":"32 u."},{"T":98,"c":240,"mz":"32 u."},{"T":100,"c":270,"mz":"32 u."},{"T":101.2,"c":290,"mz":"32 u."},{"T":102.5,"c":330,"mz":"32 u."},{"T":104,"c":410,"mz":"32 u."},{"T":105.2,"c":490,"mz":"32 u."},{"T":106,"c":560,"mz":"32 u."},{"T":107.1,"c":700,"mz":"32 u."},{"T":108,"c":830,"mz":"32 u."},{"T":108.7,"c":970,"mz":"32 u."},{"T":109.3,"c":1150,"mz":"32 u."},{"T":109.9,"c":1400,"mz":"32 u."},{"T":110.4,"c":1530,"mz":"32 u."},{"T":110.9,"c":1590,"mz":"32 u."},{"T":111.4,"c":1600,"mz":"32 u."},{"T":111.9,"c":1590,"mz":"32 u."},{"T":112.4,"c":1610,"mz":"32 u."},{"T":113,"c":1660,"mz":"32 u."},{"T":113.6,"c":1900,"mz":"32 u."},{"T":114.2,"c":2270,"mz":"32 u."},{"T":114.8,"c":2580,"mz":"32 u."},{"T":115.4,"c":2890,"mz":"32 u."},{"T":116,"c":3260,"mz":"32 u."},{"T":116.6,"c":3640,"mz":"32 u."},{"T":117.2,"c":4060,"mz":"32 u."},{"T":117.8,"c":4490,"mz":"32 u."},{"T":118.4,"c":4900,"mz":"32 u."},{"T":118.9,"c":5280,"mz":"32 u."},{"T":119.5,"c":5440,"mz":"32 u."},{"T":120.1,"c":5520,"mz":"32 u."},{"T":120.7,"c":5530,"mz":"32 u."},{"T":121.3,"c":5420,"mz":"32 u."},{"T":121.7,"c":5200,"mz":"32 u."},{"T":122.1,"c":4840,"mz":"32 u."},{"T":122.5,"c":4200,"mz":"32 u."},{"T":122.9,"c":3470,"mz":"32 u."},{"T":123.2,"c":2750,"mz":"32 u."},{"T":123.5,"c":2100,"mz":"32 u."},{"T":123.8,"c":1620,"mz":"32 u."},{"T":124.1,"c":1250,"mz":"32 u."},{"T":124.6,"c":1000,"mz":"32 u."},{"T":125.2,"c":840,"mz":"32 u."},{"T":126,"c":720,"mz":"32 u."},{"T":126.8,"c":640,"mz":"32 u."},{"T":128,"c":560,"mz":"32 u."},{"T":129.5,"c":500,"mz":"32 u."},{"T":130.7,"c":460,"mz":"32 u."},{"T":132.7,"c":410,"mz":"32 u."},{"T":134.7,"c":360,"mz":"32 u."},{"T":136.7,"c":320,"mz":"32 u."},{"T":138.6,"c":290,"mz":"32 u."},{"T":140.6,"c":255,"mz":"32 u."},{"T":142.6,"c":225,"mz":"32 u."},{"T":145,"c":185,"mz":"32 u."},{"T":147.5,"c":150,"mz":"32 u."},{"T":150,"c":125,"mz":"32 u."}
  ],
  "topText": [
    {"T":120.03,"c":5886,"label":"CS₂⁺"},
    {"T":116.96,"c":1866,"label":"CS⁺"},
    {"T":111.65,"c":1339,"label":"S⁺"},
    {"T":115.71,"c":240,"label":"S₂⁺"},
    {"T":132.13,"c":2262,"label":"CS₂:H₂ ice"}
  ],
  "bottomText": [
    {"T":123.19,"c":29896,"label":"CS₂⁺"},
    {"T":117.96,"c":6543,"label":"CS⁺"},
    {"T":113.42,"c":3918,"label":"S⁺"},
    {"T":118.57,"c":1241,"label":"S₂⁺"},
    {"T":134.11,"c":8256,"label":"CS₂:D₂ ice"}
  ]
},
"spacing": 54,
"bounds": "flush",
"resolve": {"scale": {"color": "independent"}, "legend": {"color": "independent"}},
"vconcat": [
  {
    "width": 508, "height": 390,
    "resolve": {"axis": {"x": "independent", "y": "independent"}},
    "layer": [
      {
        "data": {"name": "top"},
        "mark": {"type": "line", "strokeWidth": 1.1, "clip": true},
        "encoding": {
          "x": {"field": "T", "type": "quantitative", "scale": {"domain": [90, 150], "nice": false, "zero": false},
                "axis": {"orient": "bottom", "values": [90,100,110,120,130,140,150], "title": "Temperature (K)", "titleFontSize": 20.5, "labelPadding": 1, "titlePadding": 1}},
          "y": {"field": "c", "type": "quantitative", "scale": {"domain": [0, 8000], "nice": false},
                "axis": {"orient": "left", "values": [0,2000,4000,6000,8000], "labelExpr": "datum.value === 0 ? '0' : (datum.value/1000) + '×10³'", "title": "Ion counts", "labelPadding": 5, "titlePadding": 24}},
          "color": {"field": "mz", "type": "nominal",
                    "scale": {"domain": ["76 u.", "64 u. (x10)", "44 u.", "32 u."], "range": ["#FF8000", "#0000FF", "#FF0000", "#000000"]},
                    "legend": {"orient": "none", "legendX": 16.5, "legendY": 5, "title": "m/z", "titleFontSize": 19, "titleFontWeight": "normal", "titleColor": "black", "titlePadding": 9, "labelFontSize": 19, "labelColor": "black", "symbolType": "M-1,0H9", "symbolSize": 77.4, "symbolStrokeWidth": 1.4, "symbolFillColor": "transparent", "labelOffset": 33, "rowPadding": 5.5, "padding": 0}}
        }
      },
      {
        "data": {"name": "topText"},
        "mark": {"type": "text", "fontSize": 22, "align": "left", "baseline": "alphabetic", "font": "Liberation Sans"},
        "encoding": {
          "x": {"field": "T", "type": "quantitative", "axis": {"orient": "bottom", "values": [95,105,115,125,135,145], "tickSize": 4, "labels": false, "domain": false, "title": null}},
          "y": {"field": "c", "type": "quantitative", "axis": {"orient": "left", "values": [1000,3000,5000,7000], "tickSize": 4, "labels": false, "domain": false, "title": null}},
          "text": {"field": "label"},
          "color": {"condition": [{"test": "datum.label === 'CS₂⁺'", "value": "#FF8000"}, {"test": "datum.label === 'CS⁺'", "value": "#FF0000"}, {"test": "datum.label === 'S₂⁺'", "value": "#0000FF"}], "value": "black"}
        }
      }
    ]
  },
  {
    "width": 508, "height": 390,
    "resolve": {"axis": {"x": "independent", "y": "independent"}},
    "layer": [
      {
        "data": {"name": "bottom"},
        "mark": {"type": "line", "strokeWidth": 1.1, "clip": true},
        "encoding": {
          "x": {"field": "T", "type": "quantitative", "scale": {"domain": [90, 150], "nice": false, "zero": false},
                "axis": {"orient": "bottom", "values": [90,100,110,120,130,140,150], "title": "Temperature (K)", "titleFontSize": 20.5, "labelPadding": 1, "titlePadding": 1}},
          "y": {"field": "c", "type": "quantitative", "scale": {"domain": [0, 40000], "nice": false},
                "axis": {"orient": "left", "values": [0,10000,20000,30000,40000], "labelExpr": "datum.value === 0 ? '0' : (datum.value/10000) + '×10⁴'", "title": "Ion counts", "labelPadding": 5, "titlePadding": 24}},
          "color": {"field": "mz", "type": "nominal",
                    "scale": {"domain": ["76 u.", "64 u. (x10)", "44 u.", "32 u."], "range": ["#FF8000", "#0000FF", "#FF0000", "#000000"]},
                    "legend": {"orient": "none", "legendX": 24, "legendY": 22, "title": "m/z", "titleFontSize": 19, "titleFontWeight": "normal", "titleColor": "black", "titlePadding": 10.5, "labelFontSize": 19, "labelColor": "black", "symbolType": "M-1,0H9", "symbolSize": 77.4, "symbolStrokeWidth": 1.6, "symbolOpacity": 0.65, "symbolFillColor": "transparent", "labelOffset": 34, "rowPadding": 5, "padding": 0}}
        }
      },
      {
        "data": {"name": "bottomText"},
        "mark": {"type": "text", "fontSize": 22, "align": "left", "baseline": "alphabetic", "font": "Liberation Sans"},
        "encoding": {
          "x": {"field": "T", "type": "quantitative", "axis": {"orient": "bottom", "values": [95,105,115,125,135,145], "tickSize": 4, "labels": false, "domain": false, "title": null}},
          "y": {"field": "c", "type": "quantitative", "axis": {"orient": "left", "values": [5000,15000,25000,35000], "tickSize": 4, "labels": false, "domain": false, "title": null}},
          "text": {"field": "label"},
          "color": {"condition": [{"test": "datum.label === 'CS₂⁺'", "value": "#FF8000"}, {"test": "datum.label === 'CS⁺'", "value": "#FF0000"}, {"test": "datum.label === 'S₂⁺'", "value": "#0000FF"}], "value": "black"}
        }
      }
    ]
  }
]
}
